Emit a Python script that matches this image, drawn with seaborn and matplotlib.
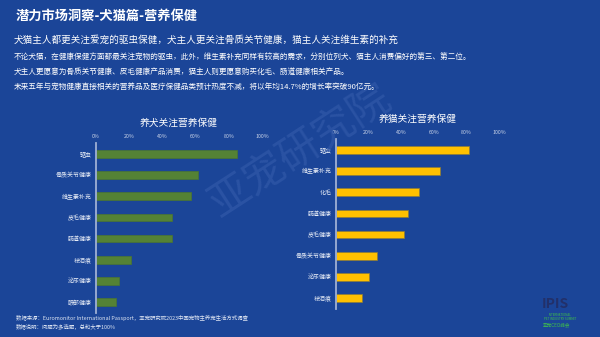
import matplotlib
matplotlib.use("Agg")
import matplotlib.pyplot as plt
import seaborn as sns
import pandas as pd

dog_items = ["驱虫", "骨质关节健康", "维生素补充", "皮毛健康", "肠道健康", "祛泪痕", "泌尿健康", "眼部健康"]
dog_values = [85, 61.5, 57.5, 45.5, 45.5, 21, 14, 12]
cat_items = ["驱虫", "维生素补充", "化毛", "肠道健康", "皮毛健康", "骨质关节健康", "泌尿健康", "祛泪痕"]
cat_values = [81.5, 64, 51, 44, 42, 25, 20, 16]
x_ticks = [0, 20, 40, 60, 80, 100]
x_tick_labels = ["0%", "20%", "40%", "60%", "80%", "100%"]

BG = "#1b4598"
sns.set_theme(style="white")
plt.rcParams["font.family"] = ["Noto Sans CJK SC", "DejaVu Sans"]
plt.rcParams["axes.unicode_minus"] = False

fig = plt.figure(figsize=(6, 3.37), dpi=100)
fig.patch.set_facecolor(BG)

# Watermark (behind everything)
fig.text(0.5, 0.55, "亚宠研究院", fontsize=30, color="#2e56a6", alpha=0.8,
         rotation=33, ha="center", va="center", zorder=0)

def draw(ax, items, values, color, edge, title):
    df = pd.DataFrame({"item": items, "value": values})
    sns.barplot(data=df, x="value", y="item", ax=ax, color=color, width=0.37,
                edgecolor=edge, linewidth=0.5, saturation=1, orient="h")
    ax.patch.set_alpha(0)
    ax.set_xlim(0, 100)
    ax.set_ylim(7.5, -0.5)
    ax.set_xticks(x_ticks)
    ax.set_xticklabels(x_tick_labels)
    ax.xaxis.tick_top()
    ax.tick_params(axis="x", length=0, labelsize=3.8, colors="#c9d3e8", pad=3)
    ax.tick_params(axis="y", length=0, labelsize=4.3, colors="#e8edf7", pad=3)
    ax.set_xlabel("")
    ax.set_ylabel("")
    for s in ["top", "right", "bottom"]:
        ax.spines[s].set_visible(False)
    ax.spines["left"].set_color("#9fb0d4")
    ax.spines["left"].set_linewidth(1.3)
    ax.set_title(title, color="white", fontsize=7, pad=13)

ax1 = fig.add_axes([0.16, 0.0724, 0.2767, 0.502])
draw(ax1, dog_items, dog_values, "#548235", "#4a7530", "养犬关注营养保健")
ax2 = fig.add_axes([0.56, 0.0843, 0.2717, 0.502])
draw(ax2, cat_items, cat_values, "#ffc000", "#8a7a3a", "养猫关注营养保健")

fig.text(16/600, 1-16/337, "潜力市场洞察-犬猫篇-营养保健", color="white",
         fontsize=9.5, fontweight="bold", ha="left", va="center")
fig.text(14/600, 1-40/337, "犬猫主人都更关注爱宠的驱虫保健，犬主人更关注骨质关节健康，猫主人关注维生素的补充",
         color="white", fontsize=6.9, ha="left", va="center")
body = [
    "不论犬猫，在健康保健方面都最关注宠物的驱虫，此外，维生素补充同样有较高的需求，分别位列犬、猫主人消费偏好的第三、第二位。",
    "犬主人更愿意为骨质关节健康、皮毛健康产品消费，猫主人则更愿意购买化毛、肠道健康相关产品。",
    "未来五年与宠物健康直接相关的营养品及医疗保健品类预计热度不减，将以年均14.7%的增长率突破90亿元。",
]
for i, line in enumerate(body):
    fig.text(14/600, 1-(57.5+14.5*i)/337, line, color="white", fontsize=5.5, ha="left", va="center")

fig.text(16/600, 1-318/337, "数据来源：Euromonitor International Passport，亚宠研究院2023中国宠物主养宠生活方式调查",
         color="#dfe6f3", fontsize=3.9, ha="left", va="center")
fig.text(16/600, 1-326/337, "数据说明：问题为多选题，总和大于100%",
         color="#dfe6f3", fontsize=3.9, ha="left", va="center")

# Logo
fig.text(555/600, 1-304/337, "IPIS", color="#22306a", fontsize=10, fontweight="bold", ha="center", va="center")
fig.text(560/600, 1-317/337, "INTERNATIONAL\nPET INDUSTRY SUMMIT", color="#3fbf4a", fontsize=2.2,
         ha="center", va="center", linespacing=0.9)
fig.text(557/600, 1-325/337, "亚宠CEO峰会", color="#3fbf4a", fontsize=3.3, ha="center", va="center")

fig.savefig("out.png", dpi=100, facecolor=BG)
